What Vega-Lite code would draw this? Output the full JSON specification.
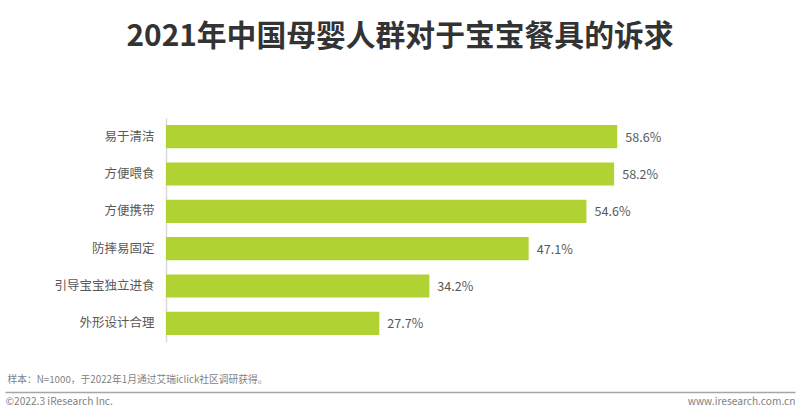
{
  "$schema": "https://vega.github.io/schema/vega-lite/v6.json",
  "width": 462,
  "height": 224,
  "autosize": "none",
  "padding": {"left": 166, "top": 118, "right": 172, "bottom": 76},
  "background": "white",
  "config": {"view": {"stroke": null}, "font": "Noto Sans CJK SC"},
  "title": {
    "text": "2021年中国母婴人群对于宝宝餐具的诉求",
    "font": "Noto Sans CJK SC",
    "fontSize": 29.8,
    "fontWeight": "bold",
    "color": "#333333",
    "anchor": "middle",
    "frame": "group",
    "dx": 3,
    "offset": 66
  },
  "data": {
    "values": [
      {"item": "易于清洁", "pct": 0.586},
      {"item": "方便喂食", "pct": 0.582},
      {"item": "方便携带", "pct": 0.546},
      {"item": "防摔易固定", "pct": 0.471},
      {"item": "引导宝宝独立进食", "pct": 0.342},
      {"item": "外形设计合理", "pct": 0.277}
    ]
  },
  "layer": [
    {
      "encoding": {
        "y": {
          "field": "item",
          "type": "nominal",
          "sort": null,
          "scale": {"paddingInner": 0.38, "paddingOuter": 0.19},
          "axis": {
            "title": null,
            "ticks": false,
            "labelFontSize": 12.5,
            "labelColor": "#595959",
            "labelPadding": 12,
            "domainColor": "#d9d9d9",
            "domainWidth": 1.5
          }
        },
        "x": {
          "field": "pct",
          "type": "quantitative",
          "scale": {"domain": [0, 0.6], "nice": false},
          "axis": null
        }
      },
      "layer": [
        {"mark": {"type": "bar", "color": "#b0d232"}},
        {
          "mark": {"type": "text", "align": "left", "dx": 8, "dy": 1, "fontSize": 12.6, "color": "#595959"},
          "encoding": {"text": {"field": "pct", "type": "quantitative", "format": ".1%"}}
        }
      ]
    },
    {
      "data": {"values": [{"anchor": 0}]},
      "mark": {"type": "text", "text": ""},
      "encoding": {
        "x": {
          "field": "anchor",
          "type": "quantitative",
          "scale": {"domain": [0, 1], "range": [-161, 629], "nice": false},
          "axis": {
            "orient": "bottom",
            "offset": 50,
            "values": [0, 1],
            "grid": false,
            "ticks": false,
            "domainColor": "#a6a6a6",
            "domainWidth": 1.5,
            "labelFlush": true,
            "labelOverlap": false,
            "labelFontSize": 10.2,
            "labelColor": "#7f7f7f",
            "labelPadding": 4,
            "labelExpr": "datum.value == 0 ? '©2022.3 iResearch Inc.' : 'www.iresearch.com.cn'",
            "title": "样本：N=1000，于2022年1月通过艾瑞iclick社区调研获得。",
            "titleFontSize": 9.75,
            "titleFontWeight": "normal",
            "titleColor": "#7f7f7f",
            "titleAnchor": "start",
            "titleAlign": "left",
            "titleBaseline": "middle",
            "titleX": -159,
            "titleY": -13
          }
        }
      }
    }
  ],
  "resolve": {"scale": {"x": "independent"}}
}
